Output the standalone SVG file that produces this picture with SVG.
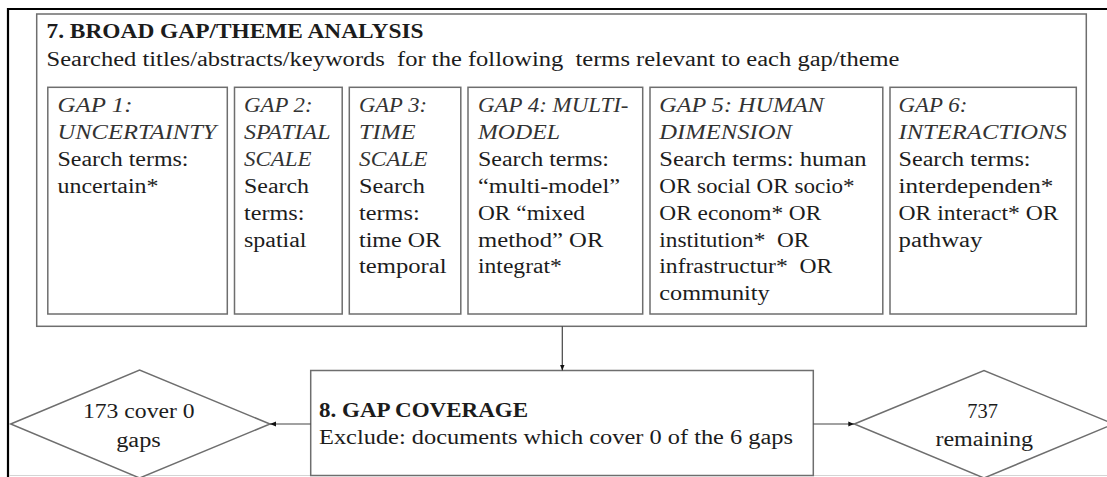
<svg xmlns="http://www.w3.org/2000/svg" width="1107" height="477" viewBox="0 0 1107 477">
<defs>
<style>
.t{font-family:"Liberation Serif","Times New Roman",serif;font-size:20px;fill:#1c1c1c}
.b{font-weight:bold}
.i{font-style:italic;fill:#333}
.box{fill:#fff;stroke:#6e6e6e;stroke-width:1.5}
.conn{stroke:#444;stroke-width:1.2;fill:none}
.m{text-anchor:middle}
</style>
<marker id="ah" viewBox="0 0 10 10" refX="10" refY="5" markerWidth="6" markerHeight="6" markerUnits="userSpaceOnUse" orient="auto">
<path d="M0,1 L10,5 L0,9 z" fill="#111"/>
</marker>
</defs>
<rect width="1107" height="477" fill="#fff"/>
<g id="frame">
<path d="M8,478 V9 H1108" fill="none" stroke="#000" stroke-width="2.2"/>
<line x1="9" y1="475.5" x2="1107" y2="475.5" stroke="#d4d4d4" stroke-width="1"/>
</g>
<g id="node-broad-gap-analysis">
<rect class="box" x="36.7" y="14" width="1049.6" height="312.3"/>
<text class="t b" x="46.5" y="37.5" textLength="377" lengthAdjust="spacingAndGlyphs">7. BROAD GAP/THEME ANALYSIS</text>
<text class="t" x="46.5" y="65.5" textLength="853" lengthAdjust="spacingAndGlyphs" xml:space="preserve">Searched titles/abstracts/keywords  for the following  terms relevant to each gap/theme</text>
</g>
<g id="node-gap1">
<rect class="box" x="47.8" y="87.3" width="179.5" height="226.7"/>
<text class="t i" x="57.5" y="112" textLength="75" lengthAdjust="spacingAndGlyphs">GAP 1:</text>
<text class="t i" x="57.5" y="139" textLength="159" lengthAdjust="spacingAndGlyphs">UNCERTAINTY</text>
<text class="t" x="57.5" y="166" textLength="131" lengthAdjust="spacingAndGlyphs">Search terms:</text>
<text class="t" x="57.5" y="193" textLength="101" lengthAdjust="spacingAndGlyphs">uncertain*</text>
</g>
<g id="node-gap2">
<rect class="box" x="234.5" y="87.3" width="107.7" height="226.7"/>
<text class="t i" x="244" y="112" textLength="68.6" lengthAdjust="spacingAndGlyphs">GAP 2:</text>
<text class="t i" x="244" y="139" textLength="86.5" lengthAdjust="spacingAndGlyphs">SPATIAL</text>
<text class="t i" x="244" y="166" textLength="67.5" lengthAdjust="spacingAndGlyphs">SCALE</text>
<text class="t" x="244" y="193" textLength="65" lengthAdjust="spacingAndGlyphs">Search</text>
<text class="t" x="244" y="220" textLength="60.4" lengthAdjust="spacingAndGlyphs">terms:</text>
<text class="t" x="244" y="246.5" textLength="62.5" lengthAdjust="spacingAndGlyphs">spatial</text>
</g>
<g id="node-gap3">
<rect class="box" x="349.3" y="87.3" width="111.5" height="226.7"/>
<text class="t i" x="359" y="112" textLength="68" lengthAdjust="spacingAndGlyphs">GAP 3:</text>
<text class="t i" x="359" y="139" textLength="56.5" lengthAdjust="spacingAndGlyphs">TIME</text>
<text class="t i" x="359" y="166" textLength="68.6" lengthAdjust="spacingAndGlyphs">SCALE</text>
<text class="t" x="359" y="193" textLength="66" lengthAdjust="spacingAndGlyphs">Search</text>
<text class="t" x="359" y="220" textLength="60.7" lengthAdjust="spacingAndGlyphs">terms:</text>
<text class="t" x="359" y="246.5" textLength="82" lengthAdjust="spacingAndGlyphs">time OR</text>
<text class="t" x="359" y="273.3" textLength="87.5" lengthAdjust="spacingAndGlyphs">temporal</text>
</g>
<g id="node-gap4">
<rect class="box" x="468" y="87.3" width="174.7" height="226.7"/>
<text class="t i" x="478" y="112" textLength="150.5" lengthAdjust="spacingAndGlyphs">GAP 4: MULTI-</text>
<text class="t i" x="478" y="139" textLength="82" lengthAdjust="spacingAndGlyphs">MODEL</text>
<text class="t" x="478" y="166" textLength="131" lengthAdjust="spacingAndGlyphs">Search terms:</text>
<text class="t" x="478" y="193" textLength="142" lengthAdjust="spacingAndGlyphs">“multi-model”</text>
<text class="t" x="478" y="220" textLength="107" lengthAdjust="spacingAndGlyphs">OR “mixed</text>
<text class="t" x="478" y="246.5" textLength="125.4" lengthAdjust="spacingAndGlyphs">method” OR</text>
<text class="t" x="478" y="273.3" textLength="83.8" lengthAdjust="spacingAndGlyphs">integrat*</text>
</g>
<g id="node-gap5">
<rect class="box" x="650" y="87.3" width="232.8" height="226.7"/>
<text class="t i" x="659.3" y="112" textLength="164.6" lengthAdjust="spacingAndGlyphs">GAP 5: HUMAN</text>
<text class="t i" x="659.3" y="139" textLength="132.5" lengthAdjust="spacingAndGlyphs">DIMENSION</text>
<text class="t" x="659.3" y="166" textLength="207.3" lengthAdjust="spacingAndGlyphs">Search terms: human</text>
<text class="t" x="659.3" y="193" textLength="195.3" lengthAdjust="spacingAndGlyphs">OR social OR socio*</text>
<text class="t" x="659.3" y="220" textLength="162" lengthAdjust="spacingAndGlyphs">OR econom* OR</text>
<text class="t" x="659.3" y="246.5" textLength="150" lengthAdjust="spacingAndGlyphs" xml:space="preserve">institution*  OR</text>
<text class="t" x="659.3" y="273.3" textLength="173" lengthAdjust="spacingAndGlyphs" xml:space="preserve">infrastructur*  OR</text>
<text class="t" x="659.3" y="300" textLength="110.4" lengthAdjust="spacingAndGlyphs">community</text>
</g>
<g id="node-gap6">
<rect class="box" x="890" y="87.3" width="186.3" height="226.7"/>
<text class="t i" x="898.5" y="112" textLength="68.8" lengthAdjust="spacingAndGlyphs">GAP 6:</text>
<text class="t i" x="898.5" y="139" textLength="168.2" lengthAdjust="spacingAndGlyphs">INTERACTIONS</text>
<text class="t" x="898.5" y="166" textLength="132" lengthAdjust="spacingAndGlyphs">Search terms:</text>
<text class="t" x="898.5" y="193" textLength="154.8" lengthAdjust="spacingAndGlyphs">interdependen*</text>
<text class="t" x="898.5" y="220" textLength="160" lengthAdjust="spacingAndGlyphs">OR interact* OR</text>
<text class="t" x="898.5" y="246.5" textLength="84" lengthAdjust="spacingAndGlyphs">pathway</text>
</g>
<g id="node-gap-coverage">
<rect class="box" x="310.7" y="370.5" width="502.6" height="105"/>
<text class="t b" x="319" y="416.7" textLength="209" lengthAdjust="spacingAndGlyphs">8. GAP COVERAGE</text>
<text class="t" x="319" y="444" textLength="474" lengthAdjust="spacingAndGlyphs">Exclude: documents which cover 0 of the 6 gaps</text>
</g>
<g id="node-excluded">
<path class="box" d="M10.7,424 L139.6,370 L270,424 L139.6,478 z"/>
<text class="t m" x="138.8" y="418" textLength="111.7" lengthAdjust="spacingAndGlyphs">173 cover 0</text>
<text class="t m" x="138.5" y="446.5" textLength="44.6" lengthAdjust="spacingAndGlyphs">gaps</text>
</g>
<g id="node-remaining">
<path class="box" d="M854.3,424 L984,370.5 L1113.7,424 L984,478 z"/>
<text class="t m" x="982.7" y="417.7" textLength="30.7" lengthAdjust="spacingAndGlyphs">737</text>
<text class="t m" x="984.2" y="445.7" textLength="97.6" lengthAdjust="spacingAndGlyphs">remaining</text>
</g>
<g id="connectors">
<line class="conn" x1="562.3" y1="326.3" x2="562.3" y2="370.5" marker-end="url(#ah)"/>
<line class="conn" x1="310.7" y1="424" x2="270" y2="424" marker-end="url(#ah)"/>
<line class="conn" x1="813.3" y1="424" x2="854.3" y2="424" marker-end="url(#ah)"/>
</g>
</svg>
